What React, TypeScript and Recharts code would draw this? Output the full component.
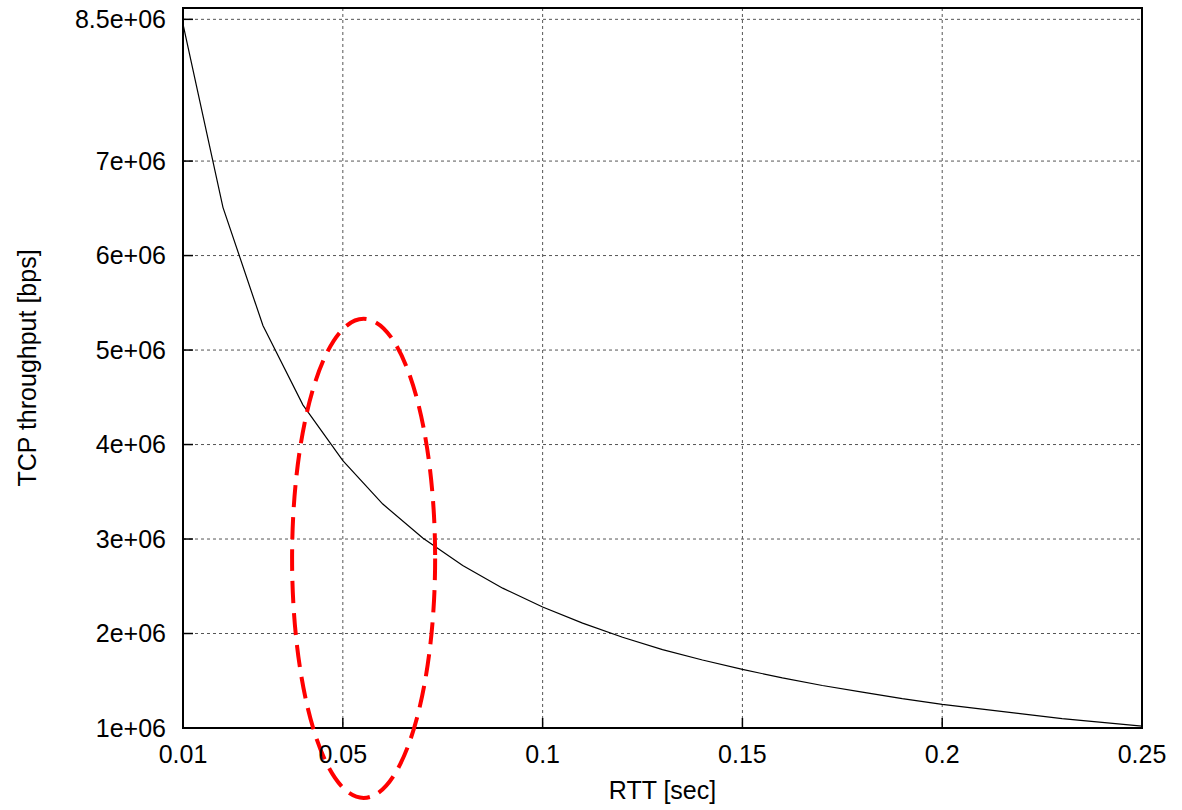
import React from 'react';
import { LineChart, Line, XAxis, YAxis, CartesianGrid, ReferenceArea } from 'recharts';

// RTT samples [sec]
const rtt = [
  0.01, 0.02, 0.03, 0.04, 0.05, 0.06, 0.07, 0.08, 0.09, 0.1,
  0.11, 0.12, 0.13, 0.14, 0.15, 0.16, 0.17, 0.18, 0.19, 0.2,
  0.21, 0.22, 0.23, 0.24, 0.25,
];
// TCP throughput [bps]
const throughput = [
  8.45e6, 6.51e6, 5.26e6, 4.42e6, 3.83e6, 3.37e6, 3.01e6, 2.72e6, 2.48e6, 2.28e6,
  2.11e6, 1.96e6, 1.83e6, 1.72e6, 1.62e6, 1.53e6, 1.45e6, 1.38e6, 1.31e6, 1.25e6,
  1.2e6, 1.15e6, 1.1e6, 1.06e6, 1.02e6,
];

const xTicks = [0.01, 0.05, 0.1, 0.15, 0.2, 0.25];
const xTickLabels = ['0.01', '0.05', '0.1', '0.15', '0.2', '0.25'];
const yTicks = [1e6, 2e6, 3e6, 4e6, 5e6, 6e6, 7e6, 8.5e6];
const yTickLabels = ['1e+06', '2e+06', '3e+06', '4e+06', '5e+06', '6e+06', '7e+06', '8.5e+06'];

const xDomain = [0.01, 0.25];
const yDomain = [1e6, 8.62e6];

// highlighted region (dashed ellipse)
const highlightRtt = [0.0373, 0.0731];
const highlightThroughput = [0.26e6, 5.33e6];

const data = rtt.map((r, i) => ({ rtt: r, tput: throughput[i] }));

const FONT = '"Liberation Sans", Arial, Helvetica, sans-serif';

const fmtX = (v: number) => {
  const i = xTicks.findIndex((t) => Math.abs(t - v) < 1e-9);
  return i >= 0 ? xTickLabels[i] : String(v);
};
const fmtY = (v: number) => {
  const i = yTicks.findIndex((t) => Math.abs(t - v) < 1e-3);
  return i >= 0 ? yTickLabels[i] : String(v);
};

const axisLineStyle = { stroke: '#000', strokeWidth: 2 };
const tickLineStyle = { stroke: '#000', strokeWidth: 1.5 };

const EllipseShape = (p: any) => {
  const w = Math.abs(p.width);
  const h = Math.abs(p.height);
  const x = Math.min(p.x, p.x + p.width);
  const y = Math.min(p.y, p.y + p.height);
  return (
    <ellipse
      cx={x + w / 2}
      cy={y + h / 2}
      rx={w / 2}
      ry={h / 2}
      fill="none"
      stroke="#ff0000"
      strokeWidth={4}
      strokeDasharray="22 10"
    />
  );
};

const FrameShape = (p: any) => {
  const w = Math.abs(p.width);
  const h = Math.abs(p.height);
  const x = Math.min(p.x, p.x + p.width);
  const y = Math.min(p.y, p.y + p.height);
  return <rect x={x} y={y} width={w} height={h} fill="none" stroke="#000" strokeWidth={2} />;
};

const YLabel = (props: any) => {
  const vb = props.viewBox || { x: 0, y: 8, width: 183, height: 720 };
  const cx = vb.x + 36;
  const cy = vb.y + vb.height / 2;
  return (
    <text
      x={cx}
      y={cy}
      transform={`rotate(-90 ${cx} ${cy})`}
      textAnchor="middle"
      fill="#000"
      fontSize={25}
      fontFamily={FONT}
    >
      TCP throughput [bps]
    </text>
  );
};

export default function App() {
  return (
    <div style={{ position: 'absolute', left: 0, top: 0, background: '#fff' }}>
      <LineChart
        width={1182}
        height={810}
        data={data}
        margin={{ top: 8, right: 40, bottom: 0, left: 0 }}
        style={{ fontFamily: FONT }}
      >
        <CartesianGrid stroke="#555" strokeDasharray="3 3" strokeWidth={1} />
        <XAxis
          dataKey="rtt"
          type="number"
          domain={xDomain}
          ticks={xTicks}
          interval={0}
          tickFormatter={fmtX}
          allowDataOverflow
          height={82}
          axisLine={axisLineStyle}
          tickLine={tickLineStyle}
          tickSize={-10}
          tickMargin={27}
          tick={{ fill: '#000', fontSize: 25, fontFamily: FONT }}
          label={{ value: 'RTT [sec]', position: 'insideBottom', offset: 11, fill: '#000', fontSize: 25, fontFamily: FONT }}
        />
        <XAxis
          xAxisId="top"
          orientation="top"
          type="number"
          domain={xDomain}
          ticks={xTicks}
          interval={0}
          allowDataOverflow
          height={0}
          axisLine={axisLineStyle}
          tickLine={tickLineStyle}
          tickSize={-10}
          tick={false}
        />
        <YAxis
          type="number"
          domain={yDomain}
          ticks={yTicks}
          interval={0}
          tickFormatter={fmtY}
          allowDataOverflow
          width={183}
          axisLine={axisLineStyle}
          tickLine={tickLineStyle}
          tickSize={-10}
          tickMargin={27}
          tick={{ fill: '#000', fontSize: 25, fontFamily: FONT }}
          label={{ content: <YLabel /> }}
        />
        <YAxis
          yAxisId="right"
          orientation="right"
          type="number"
          domain={yDomain}
          ticks={yTicks}
          interval={0}
          allowDataOverflow
          width={0}
          axisLine={axisLineStyle}
          tickLine={tickLineStyle}
          tickSize={-10}
          tick={false}
        />
        <ReferenceArea
          x1={xDomain[0]}
          x2={xDomain[1]}
          y1={yDomain[0]}
          y2={yDomain[1]}
          ifOverflow="visible"
          shape={FrameShape}
        />
        <Line
          dataKey="tput"
          type="linear"
          stroke="#000"
          strokeWidth={1.2}
          dot={false}
          activeDot={false}
          isAnimationActive={false}
        />
        <ReferenceArea
          x1={highlightRtt[0]}
          x2={highlightRtt[1]}
          y1={highlightThroughput[0]}
          y2={highlightThroughput[1]}
          ifOverflow="visible"
          shape={EllipseShape}
          zIndex={1000}
        />
      </LineChart>
    </div>
  );
}
